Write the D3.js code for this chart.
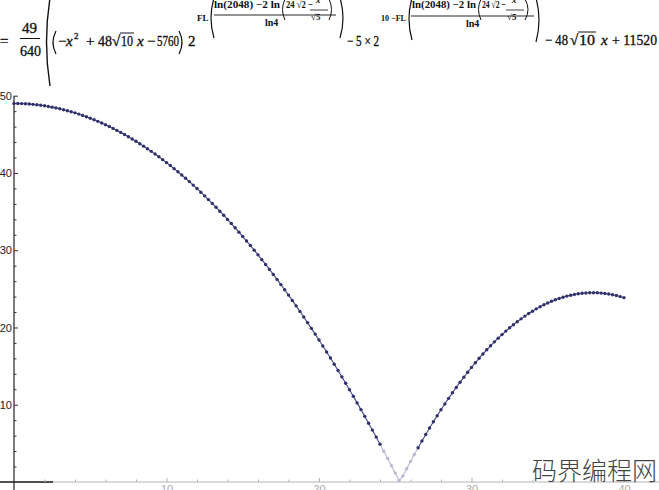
<!DOCTYPE html>
<html>
<head>
<meta charset="utf-8">
<script src="https://cdn.jsdelivr.net/npm/d3@7"></script>
<style>
html,body{margin:0;padding:0;background:#fff;overflow:hidden}
svg{display:block}
</style>
</head>
<body>
<script>
// ---------- data ----------
const xValues = [
0,0.25,0.5,0.75,1,1.25,1.5,1.75,2,2.25,2.5,2.75,3,3.25,3.5,3.75,4,4.25,4.5,4.75,
5,5.25,5.5,5.75,6,6.25,6.5,6.75,7,7.25,7.5,7.75,8,8.25,8.5,8.75,9,9.25,9.5,9.75,
10,10.25,10.5,10.75,11,11.25,11.5,11.75,12,12.25,12.5,12.75,13,13.25,13.5,13.75,14,14.25,14.5,14.75,
15,15.25,15.5,15.75,16,16.25,16.5,16.75,17,17.25,17.5,17.75,18,18.25,18.5,18.75,19,19.25,19.5,19.75,
20,20.25,20.5,20.75,21,21.25,21.5,21.75,22,22.25,22.5,22.75,23,23.25,23.5,23.75,24,24.25,24.5,24.75,
25,25.25,25.5,25.75,26,26.25,26.5,26.75,27,27.25,27.5,27.75,28,28.25,28.5,28.75,29,29.25,29.5,29.75,
30,30.25,30.5,30.75,31,31.25,31.5,31.75,32,32.25,32.5,32.75,33,33.25,33.5,33.75,34,34.25,34.5,34.75,
35,35.25,35.5,35.75,36,36.25,36.5,36.75,37,37.25,37.5,37.75,38,38.25,38.5,38.75,39,39.25,39.5,39.75,
40];
const yValues = [
49,48.99,48.98,48.96,48.92,48.88,48.83,48.77,48.69,48.61,
48.52,48.42,48.31,48.19,48.06,47.92,47.78,47.62,47.45,47.27,
47.09,46.89,46.68,46.47,46.24,46.01,45.77,45.51,45.25,44.98,
44.69,44.40,44.10,43.79,43.47,43.14,42.80,42.45,42.09,41.72,
41.34,40.96,40.56,40.15,39.74,39.31,38.88,38.43,37.98,37.51,
37.04,36.55,36.06,35.56,35.05,34.53,33.99,33.45,32.90,32.34,
31.77,31.19,30.61,30.01,29.40,28.78,28.16,27.52,26.87,26.22,
25.55,24.88,24.19,23.50,22.80,22.08,21.36,20.63,19.89,19.14,
18.38,17.61,16.83,16.04,15.24,14.43,13.61,12.78,11.94,11.10,
10.24,9.37,8.50,7.61,6.72,5.81,4.90,3.98,3.04,2.10,
1.15,0.19,
0.78,1.72,2.64,3.55,4.43,5.30,6.15,6.98,7.79,8.58,
9.35,10.10,10.83,11.55,12.24,12.92,13.57,14.21,14.83,15.43,
16.01,16.57,17.11,17.63,18.14,18.62,19.08,19.53,19.96,20.36,
20.75,21.12,21.47,21.80,22.11,22.41,22.68,22.94,23.17,23.39,
23.58,23.76,23.92,24.06,24.18,24.28,24.36,24.43,24.47,24.49,
24.50,24.49,24.45,24.40,24.33,24.24,24.13,24.00,23.86];
const yMajorTicks = [10,20,30,40,50];
const yMinorTicks = [2,4,6,8,12,14,16,18,22,24,26,28,32,34,36,38,42,44,46,48];
const xMajorTicks = [10,20,30,40];
const xMinorTicks = [2,4,6,8,12,14,16,18,22,24,26,28,32,34,36,38,42];
const watermark = "码界编程网";

// ---------- chart ----------
const W = 659, H = 490;
const svg = d3.select("body").append("svg").attr("width", W).attr("height", H);
svg.append("rect").attr("width", W).attr("height", H).attr("fill", "#fff");

const x = d3.scaleLinear().domain([0, 40]).range([14, 624]);
const y = d3.scaleLinear().domain([0, 50]).range([482, 95.7]);

const pts = xValues.map((v, i) => ({x: v, y: yValues[i]}));
const lowLimit = 4.3;
const dark = "#30306a", darkLine = "#45458a", light = "#b9b9d6";

// x axis (light grey)
const gx = svg.append("g");
gx.append("line").attr("x1", 0).attr("x2", W).attr("y1", y(0)).attr("y2", y(0))
  .attr("stroke", "#b4b4b4").attr("stroke-width", 1);
gx.append("line").attr("x1", 0).attr("x2", 53).attr("y1", y(0)).attr("y2", y(0))
  .attr("stroke", "#222").attr("stroke-width", 1.6);
const axMajor = d3.axisTop(x).tickValues(xMajorTicks).tickSize(4).tickFormat("");
const axMinor = d3.axisTop(x).tickValues(xMinorTicks).tickSize(2.5).tickFormat("");
[axMajor, axMinor].forEach(a => {
  const g = gx.append("g").attr("transform", `translate(0,${y(0)})`).call(a);
  g.select(".domain").remove();
  g.selectAll("line").attr("stroke", "#b4b4b4");
});
const axLab = d3.axisBottom(x).tickValues(xMajorTicks).tickSize(0).tickPadding(3);
const gl = gx.append("g").attr("transform", `translate(0,${y(0)})`).call(axLab);
gl.select(".domain").remove();
gl.selectAll("text").attr("fill", "#aaa").attr("font-size", 11)
  .attr("font-family", "'Liberation Sans', Arial, sans-serif");

// y axis (dark)
const gy = svg.append("g").attr("transform", `translate(${x(0)},0)`);
gy.append("line").attr("x1", 0).attr("x2", 0).attr("y1", y(50)).attr("y2", H)
  .attr("stroke", "#222").attr("stroke-width", 1.2);
const ayMajor = d3.axisRight(y).tickValues(yMajorTicks).tickSize(4).tickFormat("");
const ayMinor = d3.axisRight(y).tickValues(yMinorTicks).tickSize(2.5).tickFormat("");
[ayMajor, ayMinor].forEach(a => {
  const g = gy.append("g").call(a);
  g.select(".domain").remove();
  g.selectAll("line").attr("stroke", "#333");
});
const ayLab = d3.axisLeft(y).tickValues(yMajorTicks).tickSize(0).tickPadding(2);
const gyl = gy.append("g").call(ayLab);
gyl.select(".domain").remove();
gyl.selectAll("text").attr("fill", "#222").attr("font-size", 11)
  .attr("font-family", "'Liberation Sans', Arial, sans-serif");

// line segments
const gLine = svg.append("g");
for (let i = 0; i < pts.length - 1; i++) {
  const a = pts[i], b = pts[i + 1];
  const isLow = a.y < lowLimit || b.y < lowLimit;
  gLine.append("line")
    .attr("x1", x(a.x)).attr("y1", y(a.y)).attr("x2", x(b.x)).attr("y2", y(b.y))
    .attr("stroke", isLow ? light : darkLine).attr("stroke-width", 1.1);
}
// points
svg.append("g").selectAll("circle").data(pts).join("circle")
  .attr("cx", d => x(d.x)).attr("cy", d => y(d.y)).attr("r", 1.7)
  .attr("fill", d => d.y < lowLimit ? light : dark);

// ---------- formula ----------
const f = svg.append("g").attr("fill", "#111");
const SERIF = "'Liberation Serif', 'Times New Roman', serif";
function T(s, xx, yb, size, o = {}) {
  const t = f.append("text").attr("x", xx).attr("y", yb).attr("font-size", size)
    .attr("font-family", SERIF).text(s);
  if (o.w) t.attr("textLength", o.w).attr("lengthAdjust", "spacingAndGlyphs");
  if (o.bold) t.attr("font-weight", "bold");
  else t.attr("stroke", "#111").attr("stroke-width", 0.35);
  if (o.it) t.attr("font-style", "italic");
  return t;
}
function L(x1, y1, x2, y2, sw = 1) {
  f.append("line").attr("x1", x1).attr("y1", y1).attr("x2", x2).attr("y2", y2)
    .attr("stroke", "#111").attr("stroke-width", sw);
}
function P(x1, x2, y0, y1, open, sw = 1.2) {
  const xs = open ? [x2, x1] : [x1, x2];
  f.append("path")
    .attr("d", `M${xs[0]},${y0} Q${xs[1]},${(y0 + y1) / 2} ${xs[0]},${y1}`)
    .attr("fill", "none").attr("stroke", "#111").attr("stroke-width", sw);
}
T("y", -7, 46, 15, {it: true});
T("=", 0, 46, 15);
T("49", 22, 33, 15, {w: 15});
L(20, 38.5, 40, 38.5);
T("640", 20, 56, 15, {w: 21});
P(43, 50, -2, 86, true, 1.4);
P(50, 56, 31, 54, true);
T("\u2212", 58, 46, 15);
T("x", 66, 46, 15, {it: true});
T("2", 74, 39, 9);
T("+", 86, 46, 15);
T("48", 98, 46, 15, {w: 14});
T("\u221A", 112, 46, 15);
L(120, 33, 134, 33);
T("10", 121, 46, 15, {w: 12});
T("x", 137, 46, 15, {it: true});
T("\u2212", 147, 46, 15);
T("5760", 157, 46, 15, {w: 22});
P(179, 185, 31, 54, false);
T("2", 188, 46, 15);
T("FL", 197, 21, 9, {bold: true});
P(208, 214, -2, 38, true);
T("ln(2048) \u22122 ln", 214, 8, 10, {bold: true, w: 66});
P(280, 285, -1, 20, true, 1);
T("24 \u221A2  \u2212", 286, 8, 10, {bold: true, w: 27});
T("x", 316, 3, 9, {it: true, bold: true});
L(310, 10, 328, 10, 0.8);
T("\u221A5", 311, 20, 9, {bold: true});
P(329, 334, -1, 20, false, 1);
L(214, 15, 336, 15, 0.9);
T("ln4", 265, 26, 10, {bold: true});
P(340, 346, -2, 38, false);
T("\u2212 5 \u00D7 2", 347, 46, 15, {w: 32});
T("10 \u2212FL", 381, 21, 9, {bold: true, w: 25});
P(406, 412, -2, 40, true);
T("ln(2048) \u22122 ln", 412, 8, 10, {bold: true, w: 64});
P(476, 481, -1, 20, true, 1);
T("24 \u221A2  \u2212", 482, 8, 10, {bold: true, w: 24});
T("x", 512, 3, 9, {it: true, bold: true});
L(506, 10, 524, 10, 0.8);
T("\u221A5", 507, 20, 9, {bold: true});
P(525, 531, -1, 20, false, 1);
L(411, 16, 534, 16, 0.9);
T("ln4", 466, 27, 10, {bold: true});
P(536, 542, -2, 42, false);
T("\u2212 48", 545, 45, 15, {w: 23});
T("\u221A", 570, 45, 15);
L(578, 32, 596, 32);
T("10", 579, 45, 15, {w: 16});
T("x", 601, 45, 15, {it: true});
T("+ 11520", 612, 45, 15, {w: 45});

// watermark
svg.append("text").attr("x", 532).attr("y", 480).attr("font-size", 25)
  .attr("font-family", "'Noto Sans CJK SC', sans-serif").attr("font-weight", 300)
  .attr("fill", "#444").text(watermark);
</script>
</body>
</html>
